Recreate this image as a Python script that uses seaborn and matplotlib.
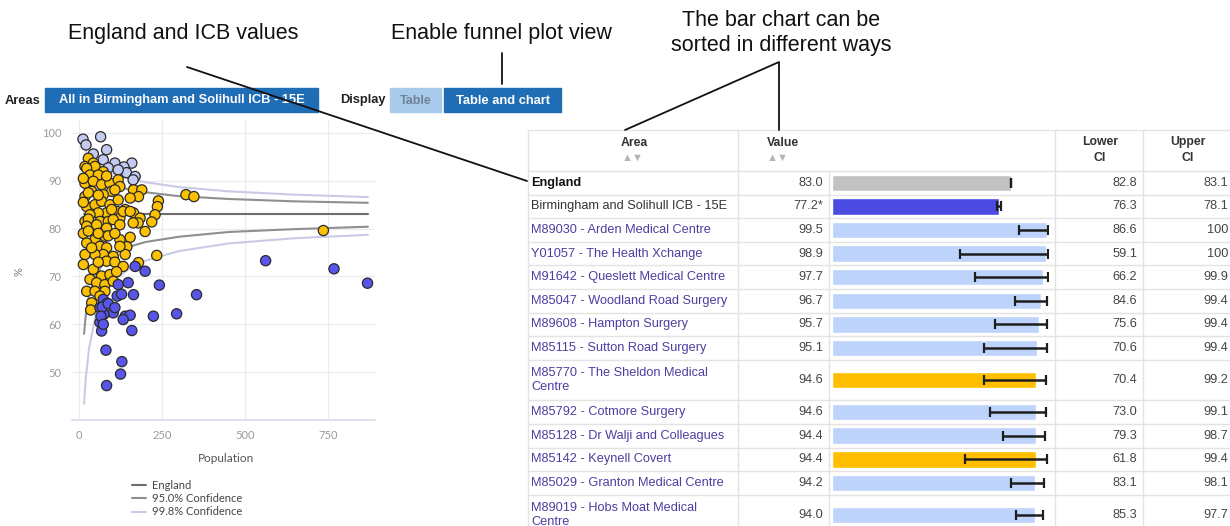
import numpy as np
import pandas as pd
import matplotlib
matplotlib.use("Agg")
import matplotlib.pyplot as plt
import seaborn as sns
from matplotlib.patches import Rectangle
from matplotlib.lines import Line2D

# ---------------- data: funnel plot ----------------
better_pop = [12, 21, 65, 83, 43, 73, 108, 159, 135, 143, 169, 163, 88, 118]
better_val = [98.7, 97.5, 99.2, 96.5, 95.6, 94.4, 93.7, 93.7, 92.9, 91.7, 90.9, 90.2, 92.7, 92.3]

similar_pop = [28, 43, 18, 48, 23, 73, 33, 58, 18, 43,
               68, 93, 118, 123, 164, 189, 179, 154, 98, 73,
               38, 18, 108, 23, 48, 68, 93, 118, 114, 83,
               58, 33, 18, 63, 88, 123, 139, 164, 184, 239,
               236, 229, 219, 133, 154, 199, 178, 163, 154, 144,
               139, 28, 103, 23, 53, 83, 123, 123, 78, 48,
               23, 63, 83, 123, 103, 73, 48, 18, 83, 108,
               133, 179, 234, 68, 93, 33, 53, 78, 103, 23,
               48, 78, 38, 63, 35, 322, 346, 736, 13, 13,
               13, 13, 28, 28, 38, 43, 58, 58, 88, 98,
               108, 113, 58, 83]
similar_val = [94.7, 93.7, 93.0, 93.0, 92.6, 91.9, 91.2, 91.2, 89.5, 89.9,
               89.2, 89.5, 90.2, 88.8, 88.1, 88.1, 86.7, 86.4, 87.8, 87.1,
               87.8, 86.7, 88.1, 84.6, 85.0, 85.7, 85.0, 86.0, 83.6, 83.3,
               83.3, 82.9, 81.5, 81.5, 81.5, 82.2, 84.0, 83.3, 82.2, 85.8,
               84.6, 82.9, 81.4, 83.6, 83.6, 79.4, 81.2, 81.2, 78.2, 76.2,
               74.6, 82.0, 81.9, 80.5, 80.8, 80.1, 80.8, 77.7, 78.4, 77.7,
               77.0, 76.3, 76.0, 76.3, 74.2, 74.6, 74.6, 74.6, 73.2, 73.0,
               72.1, 72.9, 74.4, 70.1, 70.4, 69.4, 68.7, 68.3, 69.0, 66.9,
               66.9, 66.9, 64.5, 65.9, 63.0, 87.1, 86.7, 79.6, 90.5, 85.5,
               79.0, 72.5, 87.5, 79.5, 76.0, 71.5, 73.0, 79.0, 78.5, 84.0,
               79.0, 71.0, 87.0, 91.0]

worse_pop = [169, 199, 242, 354, 562, 768, 869, 118, 148, 164,
             115, 128, 73, 63, 85, 103, 75, 139, 154, 133,
             159, 63, 68, 224, 294, 81, 129, 125, 83, 70,
             88, 108, 66, 73]
worse_val = [72.1, 71.1, 68.2, 66.2, 73.3, 71.6, 68.6, 68.3, 68.7, 66.2,
             65.9, 66.3, 65.2, 63.5, 64.4, 62.4, 62.1, 61.7, 61.9, 61.0,
             58.7, 60.4, 58.6, 61.7, 62.2, 54.6, 52.2, 49.6, 47.2, 63.6,
             64.3, 63.5, 61.7, 60.0]

funnel_pop = [15, 20, 30, 50, 75, 100, 150, 200, 300, 450, 650, 870]
england_val = 83.0
lower95 = [58.0, 61.7, 66.1, 70.3, 72.9, 74.5, 76.2, 77.2, 78.3, 79.3, 79.9, 80.4]
upper95 = [94.5, 93.7, 92.5, 91.0, 89.8, 89.1, 88.2, 87.6, 86.8, 86.2, 85.7, 85.4]
lower998 = [43.4, 48.5, 54.9, 61.8, 66.1, 68.7, 71.6, 73.3, 75.3, 76.9, 78.0, 78.7]
upper998 = [96.9, 96.2, 95.1, 93.7, 92.4, 91.6, 90.4, 89.7, 88.7, 87.8, 87.1, 86.6]

x_ticks = [0, 250, 500, 750]
y_ticks = [50, 60, 70, 80, 90, 100]
legend_labels = ["England", "95.0% Confidence", "99.8% Confidence"]

# ---------------- data: table ----------------
areas = ["England",
         "Birmingham and Solihull ICB - 15E",
         "M89030 - Arden Medical Centre",
         "Y01057 - The Health Xchange",
         "M91642 - Queslett Medical Centre",
         "M85047 - Woodland Road Surgery",
         "M89608 - Hampton Surgery",
         "M85115 - Sutton Road Surgery",
         "M85770 - The Sheldon Medical\nCentre",
         "M85792 - Cotmore Surgery",
         "M85128 - Dr Walji and Colleagues",
         "M85142 - Keynell Covert",
         "M85029 - Granton Medical Centre",
         "M89019 - Hobs Moat Medical\nCentre"]
values = [83.0, 77.2, 99.5, 98.9, 97.7, 96.7, 95.7, 95.1, 94.6, 94.6, 94.4, 94.4, 94.2, 94.0]
value_labels = ["83.0", "77.2*", "99.5", "98.9", "97.7", "96.7", "95.7", "95.1",
                "94.6", "94.6", "94.4", "94.4", "94.2", "94.0"]
lower_ci = [82.8, 76.3, 86.6, 59.1, 66.2, 84.6, 75.6, 70.6, 70.4, 73.0, 79.3, 61.8, 83.1, 85.3]
upper_ci = [83.1, 78.1, 100, 100, 99.9, 99.4, 99.4, 99.4, 99.2, 99.1, 98.7, 99.4, 98.1, 97.7]
significance = ["england", "worse", "better", "better", "better", "better", "better",
                "better", "similar", "better", "better", "similar", "better", "better"]

# ---------------- styling ----------------
W, H = 1230, 526
sns.set_theme(style="white")
plt.rcParams['font.family'] = ['Liberation Sans', 'DejaVu Sans']

C_BETTER = '#c3cbf3'
C_SIMILAR = '#fbc102'
C_WORSE = '#5856ea'
C_ENG = '#6e6e6e'
C_95 = '#8f8f8f'
C_998 = '#c9cbe5'
BTN = '#1f6db5'
GRID = '#e3e3e3'
LINK = '#4b3fa0'
TFS = 9.2

fig = plt.figure(figsize=(W / 100, H / 100), dpi=100)


def px_axes(l, t, r, b):
    return fig.add_axes([l / W, 1 - b / H, (r - l) / W, (b - t) / H])


# background / overlay axes in pixel units
bg = px_axes(0, 0, W, H)
bg.set_xlim(0, W)
bg.set_ylim(H, 0)
bg.axis('off')

# controls
bg.text(5, 100.5, 'Areas', fontweight='bold', fontsize=9.3, ha='left', va='center', color='#222')
bg.add_patch(Rectangle((45, 88), 273, 24, color=BTN, zorder=1))
bg.text(181.5, 100.5, 'All in Birmingham and Solihull ICB - 15E', color='white',
        fontweight='bold', fontsize=9.3, ha='center', va='center', zorder=2)
bg.text(340, 100.5, 'Display', fontweight='bold', fontsize=9.3, ha='left', va='center', color='#222')
bg.add_patch(Rectangle((390, 88), 51, 24, color='#a9cbeb', zorder=1))
bg.text(415.5, 100.5, 'Table', color='#6f8296', fontweight='bold', fontsize=9,
        ha='center', va='center', zorder=2)
bg.add_patch(Rectangle((444, 88), 117, 24, color=BTN, zorder=1))
bg.text(502.5, 100.5, 'Table and chart', color='white', fontweight='bold', fontsize=9.3,
        ha='center', va='center', zorder=2)

# annotations
ann = dict(fontsize=15.5, color='#111', ha='center', va='center')
bg.text(183, 33, 'England and ICB values', **ann)
bg.text(501, 33, 'Enable funnel plot view', **ann)
bg.text(781, 20, 'The bar chart can be', **ann)
bg.text(781, 46, 'sorted in different ways', **ann)
bg.plot([187, 527], [67, 181], color='#111', lw=1.3, zorder=6)
bg.plot([502, 502], [53, 84], color='#111', lw=1.3, zorder=6)
bg.plot([625, 779, 779], [130, 62, 130], color='#111', lw=1.3, zorder=6)

# table layout
HEAD_TOP, HEAD_BOT = 130, 171
ROW1, ROW2 = 23.6, 40.5
n_lines = [a.count('\n') + 1 for a in areas]
heights = [ROW1 if n == 1 else ROW2 for n in n_lines]
edges = HEAD_BOT + np.concatenate([[0], np.cumsum(heights)])
centers = (edges[:-1] + edges[1:]) / 2

bg.hlines([HEAD_TOP, HEAD_BOT] + list(edges[1:]), 528, W, color=GRID, lw=1, zorder=0)
bg.vlines([528, 738, 1055, 1143], HEAD_TOP, H, color=GRID, lw=1, zorder=0)
bg.vlines([829], HEAD_BOT, H, color=GRID, lw=1, zorder=0)

hdr = dict(fontweight='bold', fontsize=8.8, color='#333', va='center')
bg.text(634, 143, 'Area', ha='center', **hdr)
bg.text(633, 158, '\u25B2\u25BC', ha='center', va='center', fontsize=8, color='#b5b5b5')
bg.text(767, 143, 'Value', ha='left', **hdr)
bg.text(767, 158, '\u25B2\u25BC', ha='left', va='center', fontsize=8, color='#b5b5b5')
bg.text(1100, 150, 'Lower\nCI', ha='center', linespacing=1.35, **hdr)
bg.text(1188, 150, 'Upper\nCI', ha='center', linespacing=1.35, **hdr)

for i, (a, cy) in enumerate(zip(areas, centers)):
    if significance[i] == 'england':
        bg.text(531, cy, a, ha='left', va='center', fontsize=TFS, fontweight='bold', color='#111')
    elif significance[i] == 'worse':
        bg.text(531, cy, a, ha='left', va='center', fontsize=TFS, color='#333')
    else:
        bg.text(531, cy, a, ha='left', va='center', fontsize=TFS, color=LINK, linespacing=1.3)
    bg.text(823, cy, value_labels[i], ha='right', va='center', fontsize=TFS, color='#444')
    bg.text(1137, cy, f"{lower_ci[i]:.1f}", ha='right', va='center', fontsize=TFS, color='#444')
    up = upper_ci[i]
    bg.text(1228, cy, "100" if up == 100 else f"{up:.1f}", ha='right', va='center',
            fontsize=TFS, color='#444')

# bar column
bar_colors = {'england': '#c2c2c2', 'worse': '#4b4be2', 'better': '#bdd3fb', 'similar': '#ffbf00'}
bax = px_axes(832, HEAD_TOP, 1048, H)
bax.patch.set_alpha(0)
bax.set_xlim(0, 100)
bax.set_ylim(H, HEAD_TOP)
bax.axis('off')
bax.barh(centers, values, height=16.5, color=[bar_colors[s] for s in significance], zorder=2)
err_lo = [v - l for v, l in zip(values, lower_ci)]
err_hi = [u - v for v, u in zip(values, upper_ci)]
bax.errorbar(values, centers, xerr=[err_lo, err_hi], fmt='none', ecolor='#1e1e1e',
             elinewidth=1.8, capsize=3.5, capthick=1.6, zorder=3)

# funnel plot
ax = px_axes(72.4, 121, 374.5, 420)
ax.patch.set_alpha(0)
for vals, col in [(lower998, C_998), (upper998, C_998), (lower95, C_95), (upper95, C_95)]:
    sns.lineplot(x=funnel_pop, y=vals, color=col, lw=1.5, ax=ax, zorder=1)
sns.lineplot(x=funnel_pop, y=[england_val] * len(funnel_pop), color=C_ENG, lw=1.5, ax=ax, zorder=1)

pts = pd.DataFrame({
    'pop': better_pop + similar_pop + worse_pop,
    'val': better_val + similar_val + worse_val,
    'sig': ['better'] * len(better_pop) + ['similar'] * len(similar_pop) + ['worse'] * len(worse_pop),
})
sns.scatterplot(data=pts, x='pop', y='val', hue='sig',
                palette={'better': C_BETTER, 'similar': C_SIMILAR, 'worse': C_WORSE},
                s=54, edgecolor='#2a2a2a', linewidth=0.9, legend=False, ax=ax, zorder=3)

ax.set_xlim(-20, 890)
ax.set_ylim(40, 102.5)
ax.set_xticks(x_ticks)
ax.set_yticks(y_ticks)
ax.grid(True, color='#e9ecf3', lw=0.9)
ax.set_axisbelow(True)
for s in ax.spines.values():
    s.set_visible(False)
ax.axhline(40, color='#d9ddea', lw=1.3, clip_on=False, zorder=0)
ax.tick_params(length=0, labelsize=8, labelcolor='#9a9a9a')
ax.tick_params(axis='y', pad=8)
ax.tick_params(axis='x', pad=7)
for lab in ax.get_xticklabels() + ax.get_yticklabels():
    lab.set_family('Lato')
ax.set_xlabel('Population', fontsize=8.5, color='#555', family='Lato')
ax.xaxis.set_label_coords(0.51, -0.11)
ax.set_ylabel('%', fontsize=8, color='#777', family='Lato')
ax.yaxis.set_label_coords(-0.157, 0.495)

handles = [Line2D([], [], color=c, lw=1.5) for c in (C_ENG, C_95, C_998)]
leg = fig.legend(handles, legend_labels, loc='upper left', bbox_to_anchor=(132 / W, 1 - 480 / H),
                 frameon=False, handlelength=1.3, handletextpad=0.5, labelspacing=0.2,
                 prop={'family': 'Lato', 'size': 8}, borderaxespad=0, borderpad=0)
for t in leg.get_texts():
    t.set_color('#444')

fig.savefig('out.png', dpi=100)
